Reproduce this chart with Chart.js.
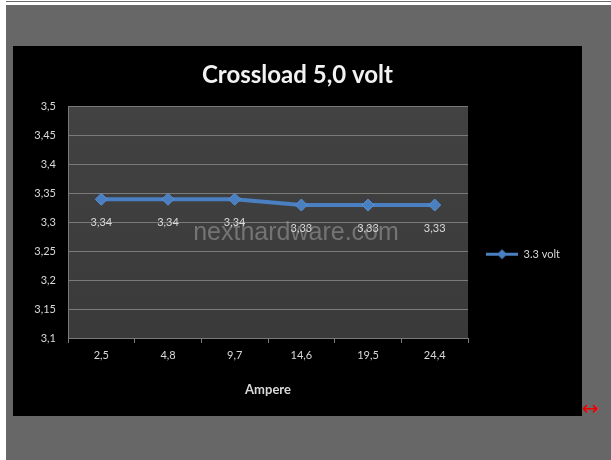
<!DOCTYPE html>
<html><head><meta charset="utf-8">
<script src="https://cdn.jsdelivr.net/npm/chart.js@4/dist/chart.umd.min.js"></script>
<style>
html,body{margin:0;padding:0;background:#fff;width:611px;height:460px;overflow:hidden;}
#topline{position:absolute;left:6px;top:1px;width:605px;height:1px;background:#6a6a6a;}
#bg{position:absolute;left:6px;top:5px;width:605px;height:455px;background:#676767;}
#box{position:absolute;left:13px;top:46px;width:569px;height:370px;background:#000;}
#arrow{position:absolute;left:582px;top:398px;color:#e00;font:20px/20px "DejaVu Sans";}
</style></head>
<body>
<div id="topline"></div>
<div id="bg"></div>
<div id="box"><canvas id="c" width="569" height="370"></canvas></div>
<div id="arrow">↔</div>
<script>
const categories = ['2,5', '4,8', '9,7', '14,6', '19,5', '24,4'];
const values33 = [3.34, 3.34, 3.34, 3.33, 3.33, 3.33];
const seriesName = '3.3 volt';
const yMin = 3.1, yMax = 3.5, yStep = 0.05;
const chartTitle = 'Crossload 5,0 volt';
const xTitle = 'Ampere';
const watermark = 'nexthardware.com';

const TXT = '#d9d9d9';
const BLUE = '#4a7fc1';
const fmt = v => String(Number(v.toFixed(2))).replace('.', ',');

// legend icon: line with diamond
const icon = document.createElement('canvas');
icon.width = 32; icon.height = 13;
(function(){
  const g = icon.getContext('2d');
  g.strokeStyle = BLUE; g.lineWidth = 3;
  g.beginPath(); g.moveTo(0, 6.5); g.lineTo(32, 6.5); g.stroke();
  g.fillStyle = BLUE; g.beginPath();
  g.moveTo(16, 1.5); g.lineTo(21, 6.5); g.lineTo(16, 11.5); g.lineTo(11, 6.5); g.closePath(); g.fill();
})();

const legendWiden = {
  id: 'legendWiden',
  beforeUpdate(chart) {
    const lg = chart.legend;
    if (lg && !lg._widened) {
      const f = lg.fit.bind(lg);
      lg.fit = function () { f(); this.width += 12; };
      lg._widened = true;
    }
  }
};

const bgPlugin = {
  id: 'plotbg',
  beforeDraw(chart) {
    const a = chart.chartArea, ctx = chart.ctx;
    ctx.save();
    const gr = ctx.createLinearGradient(0, a.top, 0, a.bottom);
    gr.addColorStop(0, '#424242'); gr.addColorStop(1, '#3a3a3a');
    ctx.fillStyle = gr;
    ctx.fillRect(a.left, a.top, a.right - a.left, a.bottom - a.top);
    ctx.restore();
  },
  beforeDatasetsDraw(chart) {
    const ctx = chart.ctx;
    ctx.save();
    ctx.font = '25px "Liberation Sans"';
    ctx.fillStyle = 'rgba(160,160,160,0.55)';
    ctx.textAlign = 'center'; ctx.textBaseline = 'middle';
    ctx.fillText(watermark, 283, 187);
    ctx.restore();
  },
  afterDatasetsDraw(chart) {
    const ctx = chart.ctx, meta = chart.getDatasetMeta(0);
    ctx.save();
    ctx.font = '11px Lato';
    ctx.fillStyle = TXT; ctx.textAlign = 'center'; ctx.textBaseline = 'middle';
    meta.data.forEach((pt, i) => ctx.fillText(fmt(values33[i]), pt.x, pt.y + 23));
    ctx.restore();
  }
};

new Chart(document.getElementById('c'), {
  type: 'line',
  data: {
    labels: categories,
    datasets: [{
      label: seriesName,
      data: values33,
      borderColor: BLUE,
      backgroundColor: BLUE,
      borderWidth: 4,
      pointStyle: 'rectRot',
      pointRadius: 6,
      pointHoverRadius: 6,
      pointBackgroundColor: BLUE,
      pointBorderColor: '#5b8fd0',
      pointBorderWidth: 1,
      tension: 0
    }]
  },
  options: {
    responsive: false,
    animation: false,
    devicePixelRatio: 1,
    layout: { padding: { left: 0, right: 0, top: 0, bottom: 8 } },
    plugins: {
      tooltip: { enabled: false },
      title: {
        display: true, text: chartTitle, color: '#f2f2f2',
        font: { family: 'Lato', size: 24, weight: 'bold' },
        padding: { top: 15, bottom: 17 }
      },
      legend: {
        position: 'right',
        title: { display: true, text: '', padding: { top: 20, bottom: 20 } },
        labels: {
          color: TXT, font: { family: 'Lato', size: 11 },
          usePointStyle: true, pointStyleWidth: 32, padding: 18,
          generateLabels: chart => [{
            text: seriesName, pointStyle: icon, fontColor: TXT,
            fillStyle: BLUE, strokeStyle: BLUE, lineWidth: 0, datasetIndex: 0
          }]
        }
      }
    },
    scales: {
      x: {
        offset: true,
        grid: { drawOnChartArea: false, drawTicks: true, tickLength: 5, color: '#7a7a7a', offset: true },
        border: { color: '#7a7a7a' },
        ticks: { color: TXT, font: { family: 'Lato', size: 11 }, padding: 6, maxRotation: 0 },
        title: { display: true, text: xTitle, color: TXT, font: { family: 'Lato', size: 13, weight: 'bold' }, padding: { top: 0, bottom: 10 } },
        afterFit(s) { s.height = 70; }
      },
      y: {
        min: yMin, max: yMax,
        grid: { color: '#7a7a7a', drawTicks: false },
        border: { color: '#7a7a7a' },
        ticks: { stepSize: yStep, color: TXT, font: { family: 'Lato', size: 11 }, padding: 12, callback: v => fmt(v) },
        afterFit(s) { s.width = 55; }
      }
    }
  },
  plugins: [legendWiden, bgPlugin]
});
</script>
</body></html>
